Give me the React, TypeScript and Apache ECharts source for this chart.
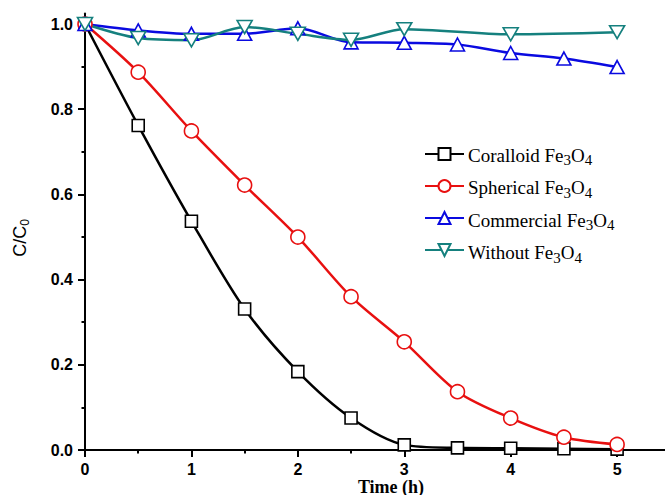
import React, { useEffect, useRef } from "react";
import * as echarts from "echarts";

const timeH = [0, 0.5, 1, 1.5, 2, 2.5, 3, 3.5, 4, 4.5, 5];
const coralloid = [1.0, 0.762, 0.537, 0.331, 0.184, 0.075, 0.012, 0.005, 0.004, 0.003, 0.002];
const spherical = [1.0, 0.887, 0.749, 0.622, 0.5, 0.36, 0.254, 0.137, 0.075, 0.03, 0.013];
const commercial = [1.0, 0.985, 0.977, 0.977, 0.99, 0.957, 0.956, 0.952, 0.932, 0.919, 0.899];
const withoutTime = [0, 0.5, 1, 1.5, 2, 2.5, 3, 4, 5];
const without = [1.0, 0.967, 0.962, 0.993, 0.977, 0.963, 0.988, 0.976, 0.981];

const seriesNames = ["Coralloid Fe3O4", "Spherical Fe3O4", "Commercial Fe3O4", "Without Fe3O4"];
const legendPrefixes = ["Coralloid Fe", "Spherical Fe", "Commercial Fe", "Without Fe"];
const xTickLabels = [0, 1, 2, 3, 4, 5];
const xMinorTicks = [0.5, 1.5, 2.5, 3.5, 4.5];
const yTickLabels = [0, 0.2, 0.4, 0.6, 0.8, 1.0];
const yMinorTicks = [0.1, 0.3, 0.5, 0.7, 0.9];

const colors = ["#000000", "#e81010", "#0a0ae0", "#15807e"];
const downTri = "path://M0,0L10,0L5,9Z";
const SERIF = "'Liberation Serif', 'Times New Roman', serif";
const SANS = "'Liberation Sans', Arial, sans-serif";

function measure(text: string, size: number, family: string, weight = "normal") {
  const c = document.createElement("canvas").getContext("2d");
  if (!c) return text.length * size * 0.5;
  c.font = `${weight} ${size}px ${family}`;
  return c.measureText(text).width;
}

function subscriptParts(parts: { t: string; sub: boolean }[], size: number, subSize: number, family: string, subDrop: number, color: string) {
  const out: any[] = [];
  let x = 0;
  for (const p of parts) {
    const fs = p.sub ? subSize : size;
    out.push({
      type: "text",
      x,
      y: p.sub ? subDrop : 0,
      style: { text: p.t, fontFamily: family, fontSize: fs, fontWeight: "normal", fontStyle: "normal", fill: color, align: "left", verticalAlign: "middle" },
    });
    x += measure(p.t, fs, family);
  }
  return { children: out, width: x };
}

export default function App() {
  const ref = useRef<HTMLDivElement>(null);
  useEffect(() => {
    if (!ref.current) return;
    const chart = echarts.init(ref.current, null, { renderer: "svg" });
    const pair = (xs: number[], ys: number[]) => xs.map((x, i) => [x, ys[i]]);
    const mk = (name: string, data: number[][], color: string, symbol: string, size: any) => ({
      name,
      type: "line",
      xAxisIndex: 0,
      yAxisIndex: 0,
      data,
      smooth: 0.3,
      symbol,
      symbolSize: size,
      showSymbol: true,
      clip: false,
      lineStyle: { color, width: 2.5 },
      itemStyle: { color: "#ffffff", borderColor: color, borderWidth: 1.6 },
      emphasis: { disabled: true },
    });
    const axisFont = { fontFamily: SANS, fontSize: 16, fontWeight: "bold", color: "#000" };
    const minorAxis = (max: number, values: number[], position: string) => ({
      type: "value",
      min: 0,
      max,
      position,
      gridIndex: 0,
      axisLine: { show: false },
      axisLabel: { show: false },
      splitLine: { show: false },
      axisTick: { show: true, customValues: values, length: 3.5, lineStyle: { color: "#000", width: 2 } },
    });
    const legendTop = 146.5;
    const rowStep = 32.5;
    const legendTexts = legendPrefixes.map((p, i) => {
      const r = subscriptParts(
        [
          { t: p, sub: false },
          { t: "3", sub: true },
          { t: "O", sub: false },
          { t: "4", sub: true },
        ],
        19, 15, SERIF, 5, "#000"
      );
      return { type: "group", x: 468, y: legendTop + 7.5 + i * rowStep + 1, children: r.children };
    });
    const yName = subscriptParts(
      [
        { t: "C/C", sub: false },
        { t: "0", sub: true },
      ],
      18, 12, SANS, 5, "#000"
    );
    chart.setOption({
      animation: false,
      backgroundColor: "#ffffff",
      textStyle: { fontFamily: SERIF },
      grid: { left: 85, right: 0, top: 13.4, bottom: 45, containLabel: false },
      xAxis: [
        {
          type: "value",
          min: 0,
          max: 5.45,
          axisLine: { show: true, onZero: false, lineStyle: { color: "#000", width: 2 } },
          axisTick: { show: true, customValues: xTickLabels, length: 7, lineStyle: { color: "#000", width: 2 } },
          axisLabel: { customValues: xTickLabels, margin: 11, ...axisFont },
          splitLine: { show: false },
        },
        minorAxis(5.45, xMinorTicks, "bottom"),
      ],
      yAxis: [
        {
          type: "value",
          min: 0,
          max: 1.025,
          axisLine: { show: true, onZero: false, lineStyle: { color: "#000", width: 2 } },
          axisTick: { show: true, customValues: yTickLabels, length: 7, lineStyle: { color: "#000", width: 2 } },
          axisLabel: { customValues: yTickLabels, margin: 12, formatter: (v: number) => v.toFixed(1), ...axisFont },
          splitLine: { show: false },
        },
        minorAxis(1.025, yMinorTicks, "left"),
      ],
      legend: {
        orient: "vertical",
        left: 424,
        top: legendTop,
        padding: 0,
        itemWidth: 39,
        itemHeight: 15,
        itemGap: rowStep - 15,
        data: seriesNames,
        formatter: () => "",
        selectedMode: false,
      },
      graphic: [
        ...legendTexts,
        {
          type: "group",
          x: 20,
          y: 238 + yName.width / 2,
          rotation: Math.PI / 2,
          children: yName.children,
        },
        {
          type: "text",
          x: 391,
          y: 487,
          style: {
            text: "Time (h)",
            align: "center",
            verticalAlign: "middle",
            fontFamily: SERIF,
            fontSize: 18,
            fontWeight: "bold",
            fill: "#000",
          },
        },
      ],
      series: [
        mk(seriesNames[0], pair(timeH, coralloid), colors[0], "rect", 12),
        mk(seriesNames[1], pair(timeH, spherical), colors[1], "circle", 14),
        mk(seriesNames[2], pair(timeH, commercial), colors[2], "triangle", [14, 13]),
        mk(seriesNames[3], pair(withoutTime, without), colors[3], downTri, [15, 13]),
      ],
    });
    return () => chart.dispose();
  }, []);
  return <div ref={ref} style={{ position: "fixed", left: 0, top: 0, width: 665, height: 495 }} />;
}
